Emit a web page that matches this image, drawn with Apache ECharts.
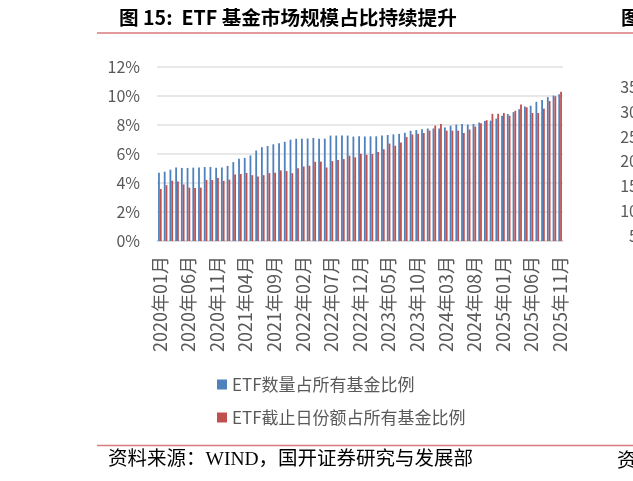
<!DOCTYPE html>
<html><head><meta charset="utf-8">
<script src="https://cdn.jsdelivr.net/npm/echarts@6/dist/echarts.min.js"></script>
<style>html,body{margin:0;padding:0;background:#fff}#c{width:633px;height:481px}</style>
</head><body><div id="c"></div>
<script>
const categories = [
'2020年01月','2020年02月','2020年03月','2020年04月','2020年05月','2020年06月','2020年07月','2020年08月','2020年09月','2020年10月','2020年11月','2020年12月',
'2021年01月','2021年02月','2021年03月','2021年04月','2021年05月','2021年06月','2021年07月','2021年08月','2021年09月','2021年10月','2021年11月','2021年12月',
'2022年01月','2022年02月','2022年03月','2022年04月','2022年05月','2022年06月','2022年07月','2022年08月','2022年09月','2022年10月','2022年11月','2022年12月',
'2023年01月','2023年02月','2023年03月','2023年04月','2023年05月','2023年06月','2023年07月','2023年08月','2023年09月','2023年10月','2023年11月','2023年12月',
'2024年01月','2024年02月','2024年03月','2024年04月','2024年05月','2024年06月','2024年07月','2024年08月','2024年09月','2024年10月','2024年11月','2024年12月',
'2025年01月','2025年02月','2025年03月','2025年04月','2025年05月','2025年06月','2025年07月','2025年08月','2025年09月','2025年10月','2025年11月'
];
// ETF数量占所有基金比例 (%)
const etfCountShare = [
4.70,4.78,4.92,5.07,5.04,5.04,5.06,5.07,5.10,5.11,5.05,5.07,
5.18,5.44,5.67,5.73,5.90,6.24,6.47,6.55,6.67,6.74,6.84,6.99,
7.05,7.05,7.07,7.11,7.06,7.06,7.27,7.27,7.27,7.27,7.20,7.22,
7.21,7.22,7.22,7.28,7.31,7.35,7.39,7.46,7.60,7.65,7.70,7.76,
7.76,7.76,7.83,7.95,8.03,8.07,8.03,8.07,8.17,8.28,8.30,8.44,
8.63,8.76,8.89,9.09,9.27,9.33,9.60,9.73,9.92,10.03,10.12
];
// ETF截止日份额占所有基金比例 (%)
const etfShareRatio = [
3.59,3.85,4.16,4.10,3.90,3.68,3.65,3.68,4.21,4.21,4.35,4.15,
4.23,4.58,4.62,4.69,4.54,4.44,4.54,4.68,4.71,4.87,4.82,4.68,
5.01,5.14,5.19,5.46,5.48,5.07,5.51,5.59,5.65,5.88,5.77,6.01,
5.95,6.00,6.13,6.33,6.72,6.57,6.79,7.17,7.35,7.40,7.45,7.62,
7.96,8.07,7.61,7.61,7.61,7.45,7.69,7.89,8.12,8.33,8.77,8.77,
8.83,8.64,8.98,9.41,9.22,8.83,8.83,9.13,9.65,9.98,10.30
];
const seriesNames = ['ETF数量占所有基金比例','ETF截止日份额占所有基金比例'];
const yTicks = [0,2,4,6,8,10,12];
const rightTicks = ['35','30','25','20','15','10','5'];

const chart = echarts.init(document.getElementById('c'));
const txt = '#595959';
const font = '"Noto Sans CJK SC", "Noto Sans", sans-serif';
const graphics = [
  {type:'text', left:119, top:8, style:{text:'图 15:  ETF 基金市场规模占比持续提升', font:'bold 19.6px "Noto Sans CJK SC", sans-serif', fill:'#000'}},
  {type:'text', left:621, top:8, style:{text:'图', font:'bold 19.6px "Noto Sans CJK SC", sans-serif', fill:'#000'}},
  {type:'line', shape:{x1:97, y1:33, x2:633, y2:33}, style:{stroke:'#d9797c', lineWidth:1.5}},
  {type:'line', shape:{x1:97, y1:445.5, x2:633, y2:445.5}, style:{stroke:'#d9797c', lineWidth:1.5}},
  {type:'text', left:108, top:450, style:{text:'资料来源：WIND，国开证券研究与发展部', font:'19.5px "Liberation Serif", "Noto Sans CJK SC", serif', fill:'#000'}},
  {type:'text', left:617, top:450, style:{text:'资', font:'19.5px "Noto Sans CJK SC", serif', fill:'#000'}}
];
rightTicks.forEach((t,i)=>{
  graphics.push({type:'text', x:638, y:87 + i*24.8, style:{text:t, font:'16px '+font, fill:txt, align:'right', verticalAlign:'middle'}});
});

chart.setOption({
  animation:false,
  backgroundColor:'#fff',
  textStyle:{fontFamily:font},
  grid:{left:157, right:70, top:67, bottom:240, containLabel:false},
  legend:{
    orient:'vertical', left:212, top:371, itemWidth:10, itemHeight:10, itemGap:16,
    icon:'rect', textStyle:{color:txt, fontSize:17, fontFamily:font},
    data:seriesNames
  },
  xAxis:{
    type:'category', data:categories,
    axisLine:{show:true, lineStyle:{color:'#d9d9d9', width:1.5}},
    axisTick:{show:false},
    axisLabel:{interval:4, rotate:90, margin:15, color:txt, fontSize:18, fontFamily:font}
  },
  yAxis:{
    type:'value', min:0, max:12, interval:2,
    axisLine:{show:false}, axisTick:{show:false},
    splitLine:{lineStyle:{color:'#e0e0e0', width:1.5}},
    axisLabel:{formatter:v=>v+'%', color:txt, fontSize:16, margin:17, fontFamily:font}
  },
  series:[
    {name:seriesNames[0], type:'bar', data:etfCountShare, barWidth:1.8, barGap:'0%', itemStyle:{color:'#4f81bd'}},
    {name:seriesNames[1], type:'bar', data:etfShareRatio, barWidth:1.8, barGap:'0%', itemStyle:{color:'#c0504d'}}
  ],
  graphic:graphics
});
</script></body></html>
